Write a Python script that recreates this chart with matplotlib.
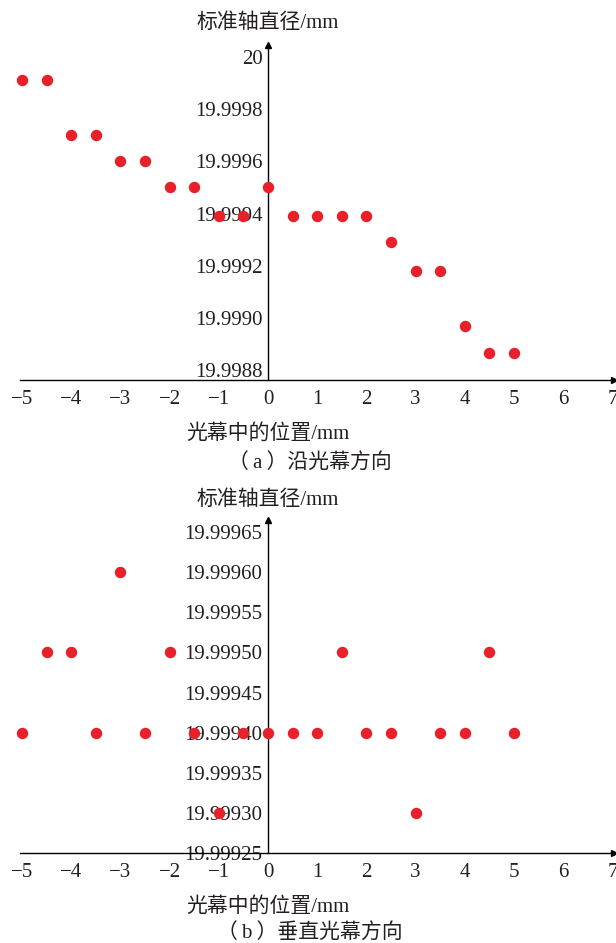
import numpy as np
import matplotlib
matplotlib.use("Agg")
import matplotlib.pyplot as plt

plt.rcParams['font.family'] = ['Liberation Serif', 'Noto Sans CJK SC', 'DejaVu Sans']
plt.rcParams['font.size'] = 15
plt.rcParams['axes.unicode_minus'] = True

# (a) 沿光幕方向
xa = [-5, -4.5, -4, -3.5, -3, -2.5, -2, -1.5, -1, -0.5, 0,
      0.5, 1, 1.5, 2, 2.5, 3, 3.5, 4, 4.5, 5]
ya = [19.99991, 19.99991, 19.9997, 19.9997, 19.9996, 19.9996, 19.9995, 19.9995,
      19.99939, 19.99939, 19.9995, 19.99939, 19.99939, 19.99939, 19.99939,
      19.99929, 19.99918, 19.99918, 19.99897, 19.998865, 19.998865]
yticks_a = [19.9988, 19.9990, 19.9992, 19.9994, 19.9996, 19.9998, 20.0]
ylabels_a = ['19.9988', '19.9990', '19.9992', '19.9994', '19.9996', '19.9998', '20']

# (b) 垂直光幕方向
xb = [-5, -3.5, -2.5, -1.5, -0.5, 0, 0.5, 1, 2, 2.5, 3.5, 4, 5,
      -4.5, -4, -2, 1.5, 4.5,
      -3,
      -1, 3]
yb = [19.9994] * 13 + [19.9995] * 5 + [19.9996] + [19.9993] * 2
yticks_b = [19.99925, 19.99930, 19.99935, 19.99940, 19.99945,
            19.99950, 19.99955, 19.99960, 19.99965]
ylabels_b = ['19.99925', '19.99930', '19.99935', '19.99940', '19.99945',
             '19.99950', '19.99955', '19.99960', '19.99965']

xticks = [-5, -4, -3, -2, -1, 0, 1, 2, 3, 4, 5, 6, 7]
ylabel = '标准轴直径/mm'
xlabel = '光幕中的位置/mm'

W, H = 616, 943
fig = plt.figure(figsize=(W / 100, H / 100), dpi=100)


def panel(top, bottom, x, y, yt, yl, ylim, caption, cap_y, yl_off, xl_off):
    ax = fig.add_axes([20 / W, 1 - bottom / H, 594 / W, (bottom - top) / H])
    ax.scatter(x, y, s=52, color='#e8202a', zorder=3, clip_on=False)
    ax.set_xlim(-5.04, 7.03)
    ax.set_ylim(*ylim)
    for s in ['top', 'right']:
        ax.spines[s].set_visible(False)
    ax.spines['left'].set_position(('data', 0))
    ax.spines['left'].set_linewidth(1.0)
    ax.spines['bottom'].set_linewidth(1.0)
    # arrow heads
    ax.plot(1, 0, '>k', ms=5, transform=ax.transAxes, clip_on=False)
    ax.plot(0, 1, '^k', ms=5, transform=ax.get_xaxis_transform(), clip_on=False)
    ax.set_xticks(xticks)
    ax.set_xticklabels([str(t).replace('-', '\u2212') for t in xticks])
    ax.set_yticks(yt)
    ax.set_yticklabels(yl)
    ax.tick_params(axis='x', length=0, pad=7, colors='#231f20')
    ax.tick_params(axis='y', length=0, pad=4, colors='#231f20')
    ax.annotate(ylabel, xy=(0, 1), xycoords=('data', 'axes fraction'),
                xytext=(0, yl_off), textcoords='offset points',
                ha='center', va='center', color='#231f20')
    ax.annotate(xlabel, xy=(0, 0), xycoords=('data', 'axes fraction'),
                xytext=(0, xl_off), textcoords='offset points',
                ha='center', va='center', color='#231f20')
    fig.text(0.503, 1 - cap_y / H, caption, ha='center', va='center', color='#231f20')
    return ax


panel(45, 380, xa, ya, yticks_a, ylabels_a, (19.998762, 20.000046),
      '（\u2009a\u2009）沿光幕方向', 464, 16, -39)
panel(520, 853, xb, yb, yticks_b, ylabels_b, (19.999251, 19.999665),
      '（\u2009b\u2009）垂直光幕方向', 934, 14, -38.5)

fig.savefig('out.png', dpi=100)
